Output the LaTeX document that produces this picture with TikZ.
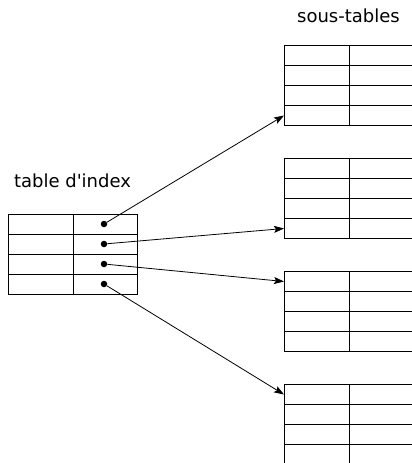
\documentclass[tikz,border=0pt]{standalone}
\usepackage{fontspec}
\setmainfont{DejaVu Sans}
\usetikzlibrary{arrows.meta}
\begin{document}
\begin{tikzpicture}[x=1pt,y=-1pt,
  cell/.style={draw=black,line width=1pt,inner sep=0pt,minimum width=65pt,minimum height=20pt,anchor=north west},
  ptr/.style={circle,fill=black,inner sep=0pt,minimum size=6.5pt},
  link/.style={-{Stealth[length=10pt,width=7pt,inset=2pt]},line width=0.8pt},
  lbl/.style={font=\fontsize{18}{21}\selectfont,anchor=base,inner sep=0pt}]
\useasboundingbox (0,0) rectangle (412,463);
% labels
\node[lbl] (lidx) at (72.5,187) {table d\textquotesingle index};
\node[lbl] (lsub) at (348.5,22) {sous-tables};
% index table
\foreach \r in {1,...,4}{
  \node[cell,minimum width=65pt] (iL\r) at (8,{214+20*(\r-1)}) {};
  \node[cell,minimum width=64pt] (iR\r) at (73,{214+20*(\r-1)}) {};
  \node[ptr] (d\r) at (104,{224+20*(\r-1)}) {};
}
% sub tables
\foreach \t/\y in {1/45,2/158,3/271,4/384}{
  \foreach \r in {1,...,4}{
    \node[cell] (s\t L\r) at (284,{\y+20*(\r-1)}) {};
    \node[cell] (s\t R\r) at (349,{\y+20*(\r-1)}) {};
  }
}
% pointers
\draw[link] (d1) -- (s1L4.west);
\draw[link] (d2) -- (s2L4.west);
\draw[link] (d3) -- (s3L1.west);
\draw[link] (d4) -- (s4L1.west);
\end{tikzpicture}
\end{document}
